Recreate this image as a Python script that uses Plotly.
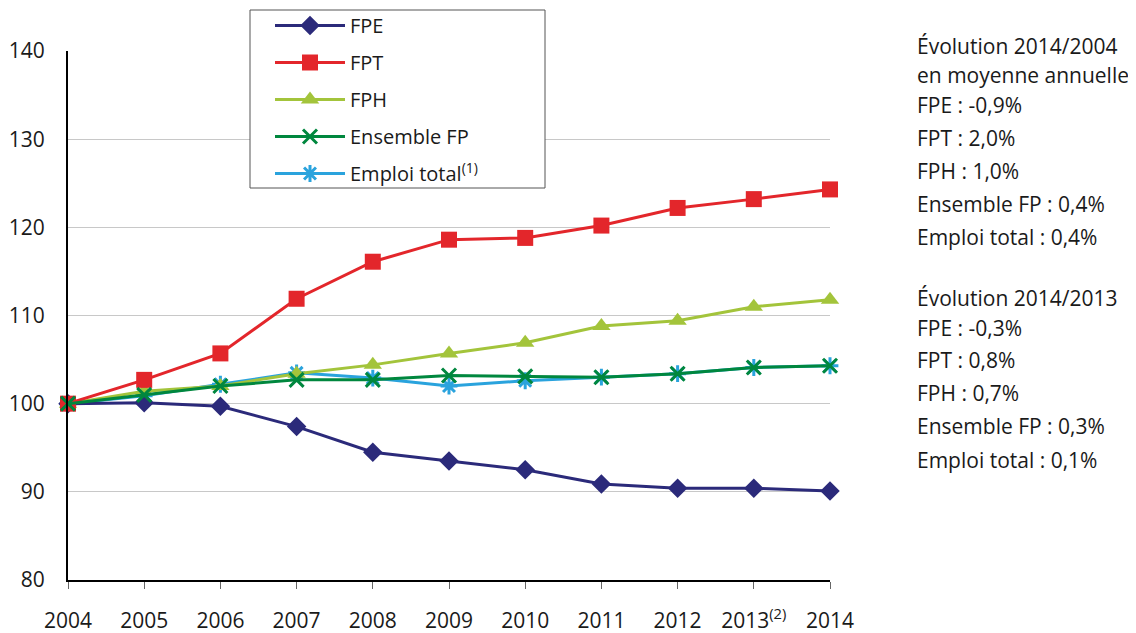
import plotly.graph_objects as go

years = [2004, 2005, 2006, 2007, 2008, 2009, 2010, 2011, 2012, 2013, 2014]
year_labels = ["2004", "2005", "2006", "2007", "2008", "2009", "2010",
               "2011", "2012", "2013<sup>(2)</sup>", "2014"]

fpe = [100.0, 100.1, 99.7, 97.4, 94.5, 93.5, 92.5, 90.9, 90.4, 90.4, 90.1]
fpt = [100.0, 102.7, 105.7, 111.9, 116.1, 118.6, 118.8, 120.2, 122.2, 123.2, 124.3]
fph = [100.0, 101.4, 102.0, 103.4, 104.4, 105.7, 106.9, 108.8, 109.4, 111.0, 111.8]
ensemble_fp = [100.0, 101.0, 102.0, 102.7, 102.7, 103.2, 103.1, 103.0, 103.4, 104.1, 104.3]
emploi_total = [100.0, 100.9, 102.2, 103.5, 102.9, 102.0, 102.6, 103.0, 103.4, 104.1, 104.3]

side_text = [
    "Évolution 2014/2004", "en moyenne annuelle",
    "FPE : -0,9%", "FPT : 2,0%", "FPH : 1,0%",
    "Ensemble FP : 0,4%", "Emploi total : 0,4%",
    "Évolution 2014/2013",
    "FPE : -0,3%", "FPT : 0,8%", "FPH : 0,7%",
    "Ensemble FP : 0,3%", "Emploi total : 0,1%",
]
# vertical pixel centres of the side text lines
side_y_px = [46, 75, 105, 138, 171, 204, 237, 298, 328, 360, 393, 426, 460]

FONT = "Open Sans"

series = [
    # name, values, colour, symbol, size, legend rank
    ("Emploi total<sup>(1)</sup>", emploi_total, "#2AA3DD", "asterisk-open", 14, 5),
    ("FPH", fph, "#A3C43B", "triangle-up", 16, 3),
    ("FPE", fpe, "#2B2A7A", "diamond", 15, 1),
    ("FPT", fpt, "#E3262B", "square", 16, 2),
    ("Ensemble FP", ensemble_fp, "#00873E", "x-thin-open", 14, 4),
]

fig = go.Figure()
for name, vals, color, symbol, size, rank in series:
    open_sym = symbol.endswith("-open")
    fig.add_trace(go.Scatter(
        x=years, y=vals, name=name, mode="lines+markers",
        line=dict(color=color, width=3),
        marker=dict(symbol=symbol, size=size, color=color,
                    line=dict(color=color, width=3 if open_sym else 0)),
        cliponaxis=False, legendrank=rank, legendgroup=name,
    ))

# the page body has an 8px margin, so the figure is drawn 8px smaller
PAGE_OFF = 8
fig_w, fig_h = 1136 - PAGE_OFF, 633 - PAGE_OFF
plot_top, plot_bottom, plot_left, plot_right = 51, 580, 68, 830
h = plot_bottom - plot_top
w = plot_right - plot_left


def px_x(p):
    return (p - plot_left) / w


def px_y(p):
    return (plot_bottom - p) / h


for txt, ypx in zip(side_text, side_y_px):
    fig.add_annotation(
        text=txt, xref="paper", yref="paper",
        x=px_x(915), y=px_y(ypx),
        xanchor="left", yanchor="middle", showarrow=False,
        font=dict(family=FONT, size=21, color="#1a1a1a"),
    )

# legend frame (white box so gridlines do not show through)
fig.add_shape(
    type="rect", xref="paper", yref="paper",
    x0=px_x(250), x1=px_x(545), y0=px_y(188), y1=px_y(10),
    fillcolor="white", line=dict(color="#555555", width=1), layer="above",
)

fig.update_layout(
    width=fig_w, height=fig_h,
    margin=dict(l=plot_left - PAGE_OFF, r=fig_w - (plot_right - PAGE_OFF),
                t=plot_top - PAGE_OFF, b=fig_h - (plot_bottom - PAGE_OFF),
                autoexpand=False),
    paper_bgcolor="white", plot_bgcolor="white",
    font=dict(family=FONT, size=21, color="#1a1a1a"),
    showlegend=True,
    legend=dict(
        x=px_x(270), y=px_y(6),
        xanchor="left", yanchor="top",
        bgcolor="rgba(0,0,0,0)", borderwidth=0,
        itemwidth=70, tracegroupgap=8, font=dict(size=20),
    ),
    xaxis=dict(
        range=[2004, 2014], tickvals=years, ticktext=year_labels,
        showgrid=False, showline=True, linecolor="black", linewidth=2,
        ticks="outside", ticklen=7, tickcolor="#666666",
        ticklabelstandoff=14, zeroline=False, automargin=False,
    ),
    yaxis=dict(
        range=[80, 140], dtick=10, showgrid=True, gridcolor="#c8c8c8",
        gridwidth=1, showline=True, linecolor="black", linewidth=2,
        ticks="", ticklabelstandoff=17, zeroline=False, automargin=False,
    ),
)

fig.write_html("out.html")
